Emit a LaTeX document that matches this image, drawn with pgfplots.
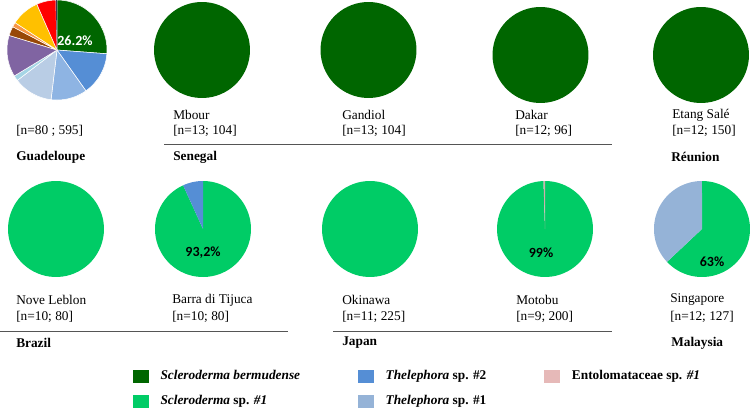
\documentclass[border=0pt]{standalone}
\usepackage{pgfplots}
\pgfplotsset{compat=1.18}
\usepackage{fontspec}
\setmainfont{Liberation Serif}
\newfontfamily\calibri{Carlito}
\definecolor{sbermu}{RGB}{0,102,0}
\definecolor{ssp}{RGB}{0,204,102}
\definecolor{thelB}{RGB}{85,142,213}
\definecolor{thelA}{RGB}{149,179,215}
\definecolor{gblue}{RGB}{142,180,227}
\definecolor{vlblue}{RGB}{185,205,229}
\definecolor{gcyan}{RGB}{165,213,229}
\definecolor{gpurple}{RGB}{128,100,162}
\definecolor{gbrown}{RGB}{152,72,7}
\definecolor{gorange}{RGB}{247,150,70}
\definecolor{gyellow}{RGB}{255,192,0}
\definecolor{gred}{RGB}{255,0,0}
\definecolor{gnavy}{RGB}{63,49,81}
\definecolor{ento}{RGB}{230,185,184}
\definecolor{rulegray}{RGB}{85,85,85}
% #1 cx, #2 cy, #3 r, #4 from (%), #5 to (%), #6 style
\newcommand{\pieslice}[6]{%
  \addplot[forget plot, #6, domain=#4*3.6:#5*3.6, samples=72, variable=\t]
    ({#1+#3*sin(\t)},{#2-#3*cos(\t)}) -- (axis cs:#1,#2) -- cycle;
}
\begin{document}
\begin{tikzpicture}
\path[use as bounding box] (0,0) rectangle (562.5pt,306pt);
\begin{axis}[
  at={(0,0)}, anchor=south west,
  scale only axis, width=562.5pt, height=306pt,
  xmin=0, xmax=750, ymin=0, ymax=408, y dir=reverse,
  hide axis, clip=false,
  legend columns=3,
  legend image code/.code={\fill[#1] (0pt,-4.4pt) rectangle (11.25pt,4.4pt);},
  legend style={draw=none, fill=none, at={(0.1773,0.0931)}, anchor=north west,
    inner sep=0pt, outer sep=0pt, row sep=9.75pt,
    font=\bfseries,
    nodes={inner sep=0pt, text height=7pt, text depth=2pt},
    /tikz/every odd column/.append style={column sep=9pt},
    /tikz/every even column/.append style={column sep=43.5pt}},
  legend cell align=left,
]
% Guadeloupe
\pieslice{57}{50}{50}{0}{26.2}{fill=sbermu, draw=white, line width=0.4pt}
\pieslice{57}{50}{50}{26.2}{40.2}{fill=thelB, draw=white, line width=0.4pt}
\pieslice{57}{50}{50}{40.2}{51.9}{fill=gblue, draw=white, line width=0.4pt}
\pieslice{57}{50}{50}{51.9}{64.6}{fill=vlblue, draw=white, line width=0.4pt}
\pieslice{57}{50}{50}{64.6}{66.3}{fill=gcyan, draw=white, line width=0.4pt}
\pieslice{57}{50}{50}{66.3}{79.7}{fill=gpurple, draw=white, line width=0.4pt}
\pieslice{57}{50}{50}{79.7}{82.7}{fill=gbrown, draw=white, line width=0.4pt}
\pieslice{57}{50}{50}{82.7}{84.2}{fill=gorange, draw=white, line width=0.4pt}
\pieslice{57}{50}{50}{84.2}{93.4}{fill=gyellow, draw=white, line width=0.4pt}
\pieslice{57}{50}{50}{93.4}{99.6}{fill=gred, draw=white, line width=0.4pt}
\pieslice{57}{50}{50}{99.6}{100}{fill=gnavy, draw=none}
% Senegal, Reunion
\pieslice{202}{50}{48}{0}{100}{fill=sbermu, draw=none}
\pieslice{368.5}{50}{48}{0}{100}{fill=sbermu, draw=none}
\pieslice{540.5}{55}{48}{0}{100}{fill=sbermu, draw=none}
\pieslice{701}{55}{48}{0}{100}{fill=sbermu, draw=none}
% Brazil
\pieslice{56}{229}{48}{0}{100}{fill=ssp, draw=none}
\pieslice{203}{229}{48}{0}{93.2}{fill=ssp, draw=none}
\pieslice{203}{229}{48}{93.2}{100}{fill=thelB, draw=none}
% Japan
\pieslice{370}{229}{48}{0}{100}{fill=ssp, draw=none}
\pieslice{545}{229}{48}{0}{99.5}{fill=ssp, draw=none}
\pieslice{545}{229}{48}{99.5}{100}{fill=ento!80!gray, draw=none}
% Malaysia
\pieslice{702}{229}{48}{0}{63}{fill=ssp, draw=none}
\pieslice{702}{229}{48}{63}{100}{fill=thelA, draw=none}

% percentage labels
\node[font=\calibri\bfseries\fontsize{10.5}{12}\selectfont, text=white] at (axis cs:75,41) {26.2\%};
\node[font=\calibri\bfseries\fontsize{10.5}{12}\selectfont] at (axis cs:203,253) {93,2\%};
\node[font=\calibri\bfseries\fontsize{10.5}{12}\selectfont] at (axis cs:541,253) {99\%};
\node[font=\calibri\bfseries\fontsize{10.5}{12}\selectfont] at (axis cs:712,262) {63\%};

% site labels
\begin{scope}[every node/.style={anchor=west, inner sep=0pt, font=\fontsize{10}{12}\selectfont}]
\node at (axis cs:16,131) {[n=80 ; 595]};
\node at (axis cs:173,115) {Mbour};
\node at (axis cs:173,131) {[n=13; 104]};
\node at (axis cs:342,115) {Gandiol};
\node at (axis cs:342,131) {[n=13; 104]};
\node at (axis cs:515,115) {Dakar};
\node at (axis cs:515,131) {[n=12; 96]};
\node at (axis cs:672,115) {Etang Salé};
\node at (axis cs:672,131) {[n=12; 150]};
\node at (axis cs:16,300) {Nove Leblon};
\node at (axis cs:16,317) {[n=10; 80]};
\node at (axis cs:172,300) {Barra di Tijuca};
\node at (axis cs:172,317) {[n=10; 80]};
\node at (axis cs:342,300) {Okinawa};
\node at (axis cs:342,317) {[n=11; 225]};
\node at (axis cs:516,300) {Motobu};
\node at (axis cs:516,317) {[n=9; 200]};
\node at (axis cs:670,300) {Singapore};
\node at (axis cs:670,317) {[n=12; 127]};
\node[font=\fontsize{10}{12}\selectfont\bfseries] at (axis cs:16,157) {Guadeloupe};
\node[font=\fontsize{10}{12}\selectfont\bfseries] at (axis cs:173,157) {Senegal};
\node[font=\fontsize{10}{12}\selectfont\bfseries] at (axis cs:671,157) {Réunion};
\node[font=\fontsize{10}{12}\selectfont\bfseries] at (axis cs:16,343) {Brazil};
\node[font=\fontsize{10}{12}\selectfont\bfseries] at (axis cs:342,343) {Japan};
\node[font=\fontsize{10}{12}\selectfont\bfseries] at (axis cs:671,343) {Malaysia};
\end{scope}

% group rules
\draw[rulegray, line width=0.75pt] (axis cs:164,144) -- (axis cs:612,144);
\draw[rulegray, line width=0.75pt] (axis cs:0,331) -- (axis cs:288,331);
\draw[rulegray, line width=0.75pt] (axis cs:333,331) -- (axis cs:612,331);

% legend
\addlegendimage{sbermu}
\addlegendentry{\textit{Scleroderma bermudense}}
\addlegendimage{thelB}
\addlegendentry{\textit{Thelephora} sp. \#2}
\addlegendimage{ento}
\addlegendentry{Entolomataceae sp. \textit{\#1}}
\addlegendimage{ssp}
\addlegendentry{\textit{Scleroderma} sp. \textit{\#1}}
\addlegendimage{thelA}
\addlegendentry{\textit{Thelephora} sp. \#1}
\end{axis}
\end{tikzpicture}
\end{document}
